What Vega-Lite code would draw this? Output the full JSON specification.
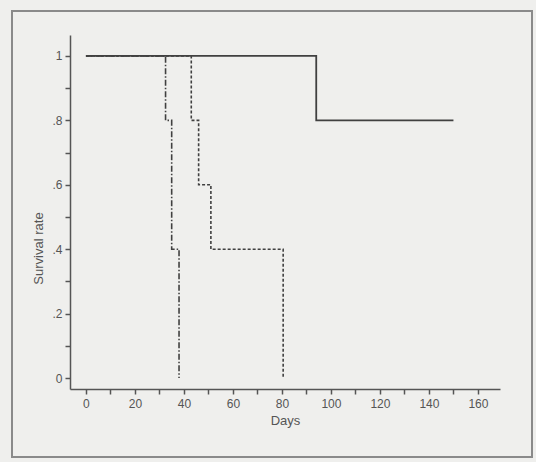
{
  "$schema": "https://vega.github.io/schema/vega-lite/v6.json",
  "width": 520,
  "height": 446,
  "padding": {"left": 12, "top": 11, "right": 4, "bottom": 5},
  "autosize": {"type": "none"},
  "background": "#efefed",
  "config": {
    "view": {"stroke": "#8a8a8a", "strokeWidth": 2},
    "font": "Liberation Sans",
    "axis": {"labelFont": "Liberation Sans", "titleFont": "Liberation Sans", "labelColor": "#555", "titleColor": "#555", "domainColor": "#555", "tickColor": "#555", "labelFontSize": 12, "titleFontSize": 13, "titleFontWeight": "normal", "grid": false, "domainWidth": 1.5, "tickWidth": 1.5}
  },
  "data": {"values": [
    {"group": "B", "day": 0, "surv": 1},
    {"group": "B", "day": 32.5, "surv": 0.8},
    {"group": "B", "day": 35, "surv": 0.4},
    {"group": "B", "day": 38, "surv": 0},
    {"group": "C", "day": 0, "surv": 1},
    {"group": "C", "day": 43, "surv": 0.8},
    {"group": "C", "day": 46, "surv": 0.6},
    {"group": "C", "day": 51, "surv": 0.4},
    {"group": "C", "day": 80.5, "surv": 0.4},
    {"group": "C", "day": 80.5, "surv": 0},
    {"group": "A", "day": 0, "surv": 1},
    {"group": "A", "day": 94, "surv": 0.8},
    {"group": "A", "day": 150, "surv": 0.8}
  ]},
  "encoding": {
    "x": {"field": "day", "type": "quantitative",
      "scale": {"domain": [-6.5, 169], "range": [58, 488], "nice": false, "zero": false},
      "axis": {"title": "Days", "values": [0,10,20,30,40,50,60,70,80,90,100,110,120,130,140,150,160,170], "labelExpr": "datum.value % 20 == 0 ? datum.label : ''", "offset": -68, "tickSize": 5, "labelPadding": 4, "titlePadding": 5}},
    "y": {"field": "surv", "type": "quantitative",
      "scale": {"domain": [-0.034, 1.065], "range": [378, 24], "nice": false, "zero": false},
      "axis": {"title": "Survival rate", "values": [0,0.1,0.2,0.3,0.4,0.5,0.6,0.7,0.8,0.9,1], "labelExpr": "datum.value == 0 ? '0' : datum.value == 1 ? '1' : (round(datum.value*10) % 2 == 0 ? replace(format(datum.value, '.1f'), '0.', '.') : '')", "offset": -58, "tickSize": 5, "labelPadding": 3, "titleX": -25, "titleY": 237}}
  },
  "layer": [
    {
      "transform": [{"filter": "datum.group != 'A'"}],
      "mark": {"type": "line", "interpolate": "step-after", "strokeWidth": 1.6, "color": "#404040", "clip": false},
      "encoding": {
        "strokeDash": {"field": "group", "type": "nominal", "legend": null,
          "scale": {"domain": ["B", "C"], "range": [[6, 2, 1.5, 2], [3, 2]]}}
      }
    },
    {
      "transform": [{"filter": "datum.group == 'A'"}],
      "mark": {"type": "line", "interpolate": "step-after", "strokeWidth": 1.8, "color": "#404040", "clip": false},
      "encoding": {}
    }
  ]
}
